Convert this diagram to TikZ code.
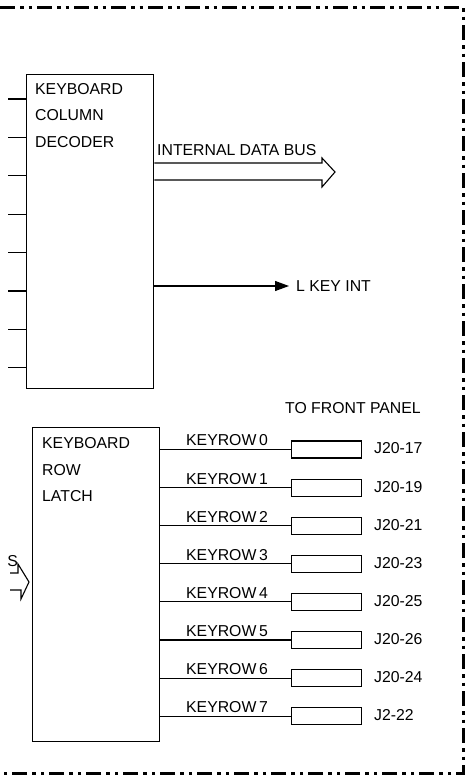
\documentclass[tikz,border=0pt]{standalone}
\usepackage{fontspec}
\setmainfont{Liberation Sans}
\usetikzlibrary{arrows.meta}
\begin{document}
\begin{tikzpicture}[x=1pt,y=-1pt,
  lbl/.style={font=\fontsize{15.8}{16}\selectfont, inner sep=0pt, anchor=west},
  blk/.style={draw, line width=1.3pt, rectangle, inner sep=0pt, anchor=north west},
  conn/.style={draw, line width=1.1pt, rectangle, inner sep=0pt, minimum width=70pt, minimum height=17pt, anchor=west},
  wire/.style={line width=1.1pt},
  border/.style={line width=3pt, dash pattern=on 15pt off 5pt on 3.5pt off 5pt on 3.5pt off 5pt}]
\useasboundingbox (0,0) rectangle (471,782);
% border
\draw[border] (0,7) -- (463,7) -- (463,773) -- (0,773);
% column decoder
\node[blk, minimum width=127pt, minimum height=314pt] (dec) at (26,74) {};
\node[lbl] (d1) at (35,89) {KEYBOARD};
\node[lbl] (d2) at (35,115) {COLUMN};
\node[lbl] (d3) at (35,142) {DECODER};
\foreach \i in {0,...,7} {
  \coordinate (s\i) at (8,{99+38.4*\i});
  \draw[wire] (s\i) -- (s\i -| dec.west);
}
% internal data bus
\node[lbl] (ibus) at (157,150) {INTERNAL DATA BUS};
\draw[wire] (dec.east |- 0,163) -- (322,163) -- (322,158) -- (335,172) -- (322,187) -- (322,180) -- (dec.east |- 0,180);
% L KEY INT
\node[lbl] (lkey) at (296,286) {L KEY INT};
\coordinate (lkt) at (289,286);
\draw[wire, -{Triangle[length=14pt,width=10pt]}] (dec.east |- lkt) -- (lkt);
% row latch
\node[blk, minimum width=127pt, minimum height=314pt] (lat) at (32,427) {};
\node[lbl] (l1) at (42,443) {KEYBOARD};
\node[lbl] (l2) at (42,470) {ROW};
\node[lbl] (l3) at (42,496) {LATCH};
% incoming bus (cut off)
\node[lbl, anchor=east] (bus2) at (18,561) {S};
\draw[wire] (10,573) -- (18,573) -- (18,564) -- (29,582) -- (21,599) -- (21,590) -- (10,590);
% to front panel
\node[lbl] (tfp) at (285,408) {TO FRONT PANEL};
\foreach \i/\j in {0/J20-17,1/J20-19,2/J20-21,3/J20-23,4/J20-25,5/J20-26,6/J20-24,7/J2-22} {
  \node[conn] (c\i) at (291,{449.5+38.1*\i}) {};
  \node[lbl] (k\i) at (186,{440.5+38.1*\i}) {KEYROW\,\i};
  \node[lbl] (j\i) at (374,{448.5+38.1*\i}) {\j};
  \draw[wire] (lat.east |- c\i.west) -- (c\i.west);
}
\end{tikzpicture}
\end{document}
